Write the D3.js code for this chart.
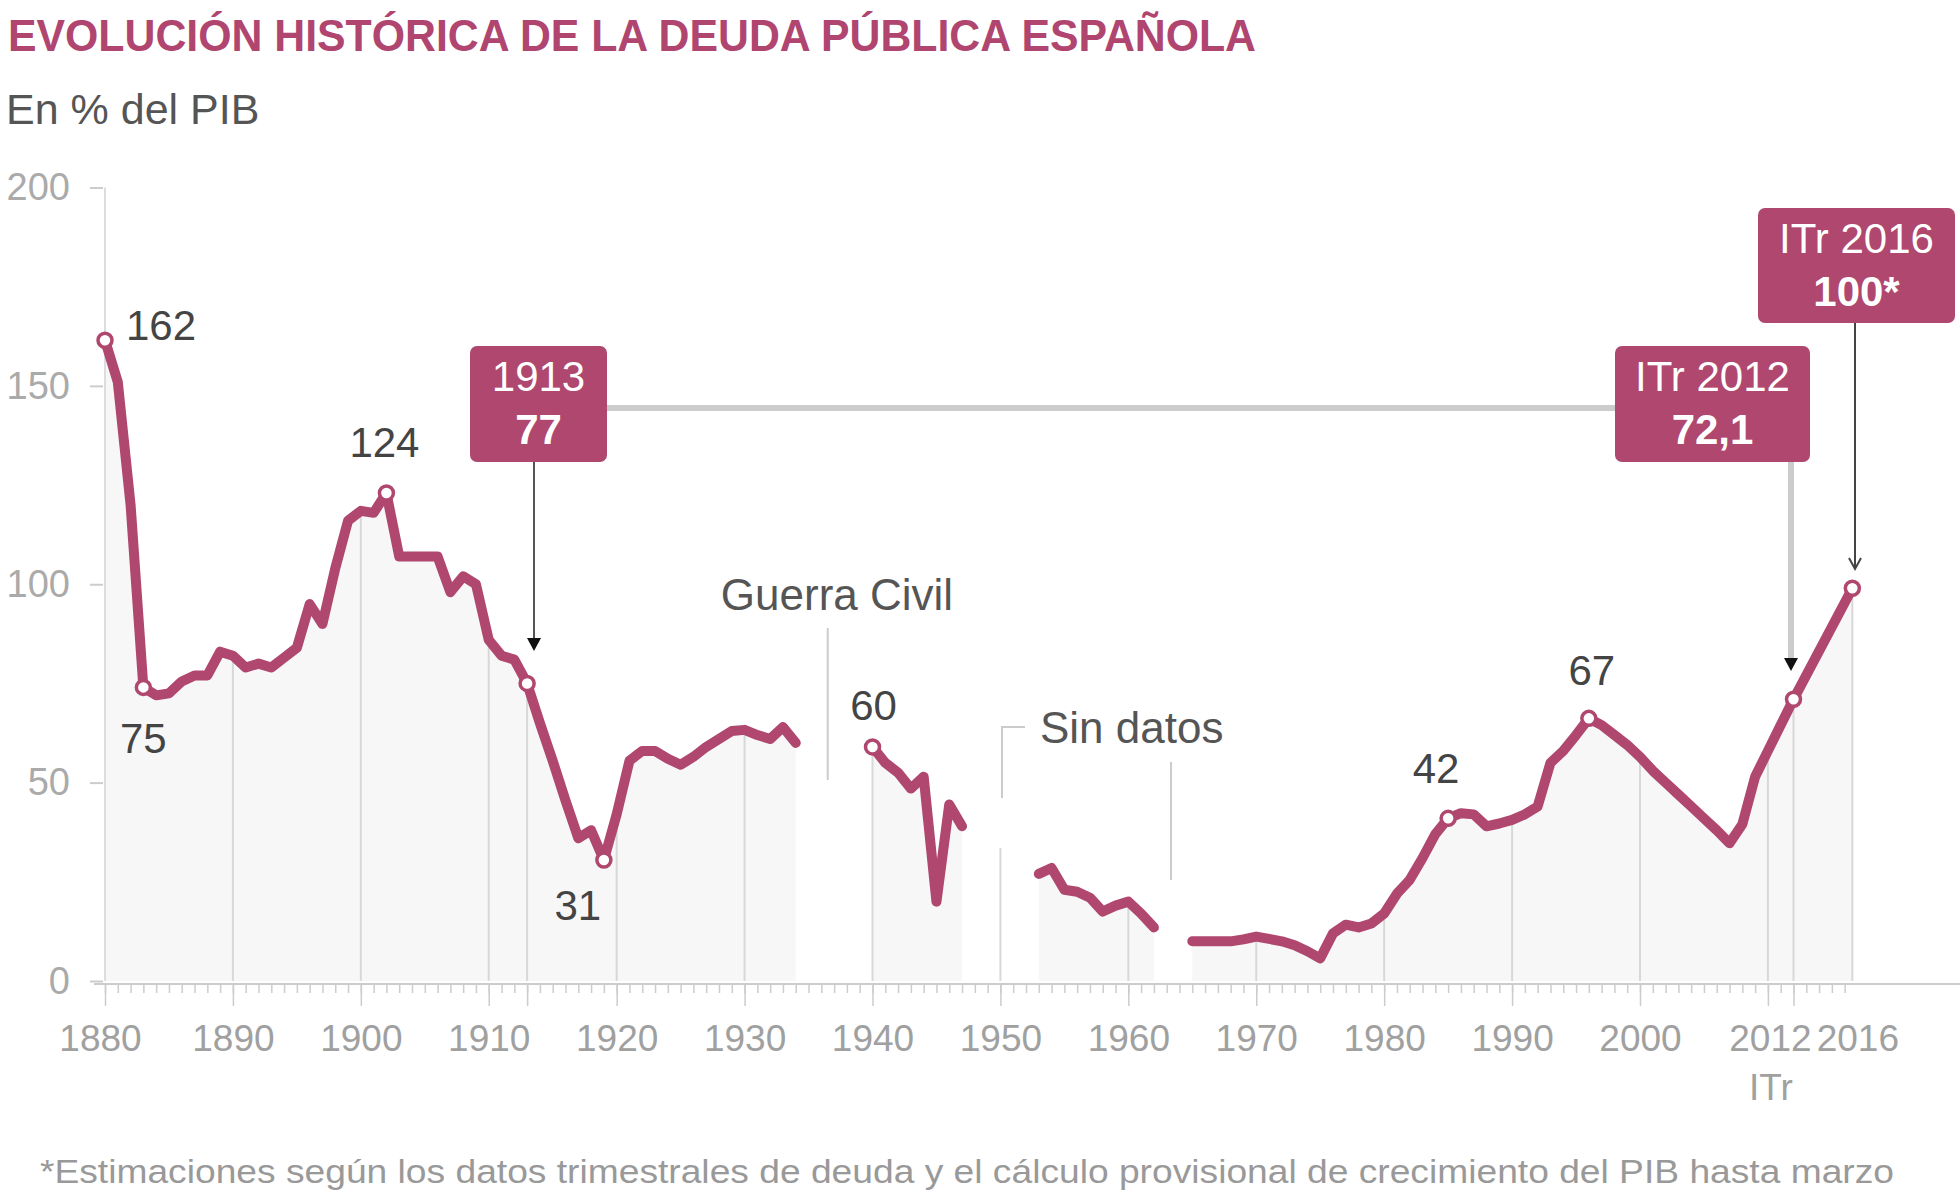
<!DOCTYPE html>
<html>
<head>
<meta charset="utf-8">
<title>Evolución histórica de la deuda pública española</title>
<script src="https://cdnjs.cloudflare.com/ajax/libs/d3/7.8.5/d3.min.js"></script>
<style>
    body { margin: 0; background: #fff; }
    text { font-family: "Liberation Sans", Arial, sans-serif; }
</style>
</head>
<body>
<svg id="chart" width="1960" height="1198"></svg>
<script>
// deuda publica en % del PIB, un array por tramo continuo (hay huecos sin datos)
const years1 = d3.range(1880, 1935);
const debt1 = [161.5, 151, 120, 74, 72, 72.5, 75.5, 77, 77, 83,
               82, 79, 80, 79, 81.5, 84, 95, 90, 104, 116,
               118.5, 118, 123, 107, 107, 107, 107, 98, 102, 100,
               86, 82, 81, 75, 65, 55.5, 45.5, 36, 38, 30.5,
               42, 55.5, 58, 58, 56, 54.5, 56.5, 59, 61, 63,
               63.3, 62, 61, 64, 60];
const years2 = [1940, 1941, 1942, 1943, 1944, 1945, 1946, 1947];
const debt2 = [59, 55, 52.5, 48.5, 51.5, 20, 44.5, 39];
const years3 = [1953, 1954, 1955, 1956, 1957, 1958, 1959, 1960, 1961, 1962];
const debt3 = [27, 28.5, 23, 22.5, 21, 17.5, 19, 20, 17, 13.5];
const years4 = d3.range(1965, 2013).concat([2016.6]); // ultimo punto: ITr 2016
const debt4 = [10, 10, 10, 10, 10.5, 11.2, 10.6, 10, 9, 7.5,
               5.7, 12, 14.2, 13.5, 14.5, 17, 22, 25.5, 31, 37,
               41, 42.3, 42, 39, 39.7, 40.6, 42, 44, 55, 58,
               62, 66.2, 64.5, 62, 59.5, 56.5, 53, 50, 47, 44,
               41, 38, 34.7, 39.5, 51.5, 58, 64.5, 71, 99];

// puntos destacados
const markYears = [1880, 1883, 1902, 1913, 1919, 1940, 1985, 1996, 2012, 2016.6];
const labelYears = [1880, 1883, 1902, 1919, 1940, 1985, 1996];
const labelTexts = ["162", "75", "124", "31", "60", "42", "67"];

// eje
const yTicks = [0, 50, 100, 150, 200];
const axisYears = [1880, 1890, 1900, 1910, 1920, 1930, 1940, 1950, 1960, 1970, 1980, 1990, 2000, 2010, 2016.6];
const axisLabels = ["1880", "1890", "1900", "1910", "1920", "1930", "1940", "1950", "1960", "1970", "1980", "1990", "2000", "2012", "2016"];
const majorYears = [1880, 1890, 1900, 1910, 1913, 1920, 1930, 1940, 1950, 1960, 1970, 1980, 1990, 2000, 2010, 2012];
const gridYears = [1890, 1900, 1910, 1913, 1920, 1930, 1940, 1960, 1970, 1980, 1990, 2000, 2010, 2012, 2016.6];

const RED = "#b0476e";
const svg = d3.select("#chart");

const x = d3.scaleLinear().domain([1880, 2000]).range([105, 1640]);
const y = d3.scaleLinear().domain([0, 200]).range([981, 187.5]);

const segments = [
    d3.zip(years1, debt1),
    d3.zip(years2, debt2),
    d3.zip(years3, debt3),
    d3.zip(years4, debt4)
];

function valueAt(yr) {
    for (const s of segments) {
        if (yr >= s[0][0] && yr <= s[s.length - 1][0]) {
            for (let i = 0; i < s.length - 1; i++) {
                if (yr >= s[i][0] && yr <= s[i + 1][0]) {
                    const t = (yr - s[i][0]) / (s[i + 1][0] - s[i][0]);
                    return s[i][1] + t * (s[i + 1][1] - s[i][1]);
                }
            }
            return s[s.length - 1][1];
        }
    }
    return null;
}

// titulos
svg.append("text").attr("x", 8).attr("y", 51)
    .attr("font-size", 44).attr("font-weight", "bold").attr("fill", "#b04570")
    .attr("textLength", 1248).attr("lengthAdjust", "spacingAndGlyphs")
    .text("EVOLUCIÓN HISTÓRICA DE LA DEUDA PÚBLICA ESPAÑOLA");
svg.append("text").attr("x", 6).attr("y", 124)
    .attr("font-size", 43).attr("fill", "#555")
    .text("En % del PIB");

// areas grises
const area = d3.area().x(d => x(d[0])).y0(y(0)).y1(d => y(d[1]));
svg.append("g").selectAll("path").data(segments).join("path")
    .attr("d", area).attr("fill", "#f7f7f7");

// linea vertical del eje y
svg.append("line").attr("x1", x(1880)).attr("x2", x(1880))
    .attr("y1", y(200)).attr("y2", y(0)).attr("stroke", "#ddd").attr("stroke-width", 2);

// rejilla bajo la curva
svg.append("g").selectAll("line").data(gridYears).join("line")
    .attr("x1", d => x(d)).attr("x2", d => x(d))
    .attr("y1", y(0)).attr("y2", d => y(valueAt(d)))
    .attr("stroke", "#d8d8d8").attr("stroke-width", 2);

// eje y
const yAxis = svg.append("g").attr("transform", "translate(103,0)")
    .call(d3.axisLeft(y).tickValues(yTicks).tickSize(13).tickPadding(20));
yAxis.select(".domain").remove();
yAxis.selectAll("line").attr("stroke", "#ccc").attr("stroke-width", 2);
yAxis.selectAll("text").attr("font-size", 38).attr("fill", "#aaa")
    .attr("font-family", "'Liberation Sans', Arial, sans-serif");

// eje x
const axisY = 984;
svg.append("line").attr("x1", 94).attr("x2", 1960).attr("y1", axisY).attr("y2", axisY)
    .attr("stroke", "#ccc").attr("stroke-width", 2);
const minor = svg.append("g").attr("transform", `translate(0,${axisY})`)
    .call(d3.axisBottom(x).tickValues(d3.range(1880, 2017)).tickSize(9).tickFormat(""));
const major = svg.append("g").attr("transform", `translate(0,${axisY})`)
    .call(d3.axisBottom(x).tickValues(majorYears).tickSize(22).tickFormat(""));
const labels = svg.append("g").attr("transform", `translate(0,${axisY})`)
    .call(d3.axisBottom(x).tickValues(axisYears).tickSize(0).tickPadding(41)
        .tickFormat((d, i) => axisLabels[i]));
[minor, major, labels].forEach(g => {
    g.select(".domain").remove();
    g.selectAll("line").attr("stroke", "#ccc").attr("stroke-width", 1.5);
});
labels.selectAll("text").attr("font-size", 37).attr("fill", "#a0a0a0")
    .attr("font-family", "'Liberation Sans', Arial, sans-serif")
    .attr("dx", (d, i) => i === 0 ? -5 : (i === axisYears.length - 1 ? 5 : (i === axisYears.length - 2 ? 2 : 0)));
svg.append("text").attr("x", x(2010) + 3).attr("y", 1100).attr("text-anchor", "middle")
    .attr("font-size", 37).attr("fill", "#a0a0a0").text("ITr");

// Guerra Civil
svg.append("line").attr("x1", x(1936.5)).attr("x2", x(1936.5))
    .attr("y1", 628).attr("y2", 780).attr("stroke", "#ccc").attr("stroke-width", 2);
svg.append("text").attr("x", 837).attr("y", 610).attr("text-anchor", "middle")
    .attr("font-size", 44).attr("fill", "#555").text("Guerra Civil");

// Sin datos
svg.append("path").attr("d", "M1025,727H1002V798").attr("fill", "none")
    .attr("stroke", "#ccc").attr("stroke-width", 2);
svg.append("line").attr("x1", x(1950)).attr("x2", x(1950))
    .attr("y1", 848).attr("y2", y(0)).attr("stroke", "#d8d8d8").attr("stroke-width", 2);
svg.append("line").attr("x1", 1171).attr("x2", 1171)
    .attr("y1", 762).attr("y2", 880).attr("stroke", "#ccc").attr("stroke-width", 2);
svg.append("text").attr("x", 1040).attr("y", 743)
    .attr("font-size", 44).attr("fill", "#555").text("Sin datos");

// conector entre 1913 e ITr 2012
svg.append("line").attr("x1", 607).attr("x2", 1615).attr("y1", 408).attr("y2", 408)
    .attr("stroke", "#ccc").attr("stroke-width", 6);

// flechas hacia los puntos
const x1913 = 534, x2012 = 1791, x2016 = 1855;
svg.append("line").attr("x1", x1913).attr("x2", x1913).attr("y1", 461).attr("y2", 642)
    .attr("stroke", "#555").attr("stroke-width", 2);
svg.append("path").attr("d", `M${x1913 - 7},638 L${x1913 + 7},638 L${x1913},651 Z`).attr("fill", "#111");
svg.append("line").attr("x1", x2012).attr("x2", x2012).attr("y1", 461).attr("y2", 660)
    .attr("stroke", "#ccc").attr("stroke-width", 6);
svg.append("path").attr("d", `M${x2012 - 7},658 L${x2012 + 7},658 L${x2012},671 Z`).attr("fill", "#111");
svg.append("line").attr("x1", x2016).attr("x2", x2016).attr("y1", 322).attr("y2", 568)
    .attr("stroke", "#444").attr("stroke-width", 2);
svg.append("path").attr("d", `M${x2016 - 6},558 L${x2016},569 L${x2016 + 6},558`)
    .attr("fill", "none").attr("stroke", "#444").attr("stroke-width", 2);

// linea de datos
const line = d3.line().x(d => x(d[0])).y(d => y(d[1]));
svg.append("g").selectAll("path").data(segments).join("path")
    .attr("d", line).attr("fill", "none").attr("stroke", RED)
    .attr("stroke-width", 10).attr("stroke-linejoin", "round").attr("stroke-linecap", "round");

svg.append("g").selectAll("circle").data(markYears).join("circle")
    .attr("cx", d => x(d)).attr("cy", d => y(valueAt(d))).attr("r", 7)
    .attr("fill", "#fff").attr("stroke", RED).attr("stroke-width", 3.5);

// etiquetas de valores
const labelOffsets = [[21, 0, "start"], [0, 66, "middle"], [-2, -36, "middle"], [-26, 60, "middle"],
                      [1, -27, "middle"], [-12, -35, "middle"], [3, -33, "middle"]];
svg.append("g").selectAll("text").data(labelYears).join("text")
    .attr("x", (d, i) => x(d) + labelOffsets[i][0])
    .attr("y", (d, i) => y(valueAt(d)) + labelOffsets[i][1])
    .attr("text-anchor", (d, i) => labelOffsets[i][2])
    .attr("font-size", 42).attr("fill", "#444")
    .text((d, i) => labelTexts[i]);

// cajas
const boxes = [
    {x0: 470, y0: 346, w: 137, h: 116, top: "1913", bottom: "77"},
    {x0: 1615, y0: 346, w: 195, h: 116, top: "ITr 2012", bottom: "72,1"},
    {x0: 1758, y0: 208, w: 197, h: 115, top: "ITr 2016", bottom: "100*"}
];
const bx = svg.append("g").selectAll("g").data(boxes).join("g");
bx.append("rect").attr("x", d => d.x0).attr("y", d => d.y0)
    .attr("width", d => d.w).attr("height", d => d.h).attr("rx", 7).attr("fill", RED);
bx.append("text").attr("x", d => d.x0 + d.w / 2).attr("y", d => d.y0 + 45)
    .attr("text-anchor", "middle").attr("font-size", 42).attr("fill", "#fff")
    .text(d => d.top);
bx.append("text").attr("x", d => d.x0 + d.w / 2).attr("y", d => d.y0 + 98)
    .attr("text-anchor", "middle").attr("font-size", 42).attr("font-weight", "bold").attr("fill", "#fff")
    .text(d => d.bottom);

// nota
svg.append("text").attr("x", 40).attr("y", 1183)
    .attr("font-size", 34).attr("fill", "#999")
    .attr("textLength", 1854).attr("lengthAdjust", "spacingAndGlyphs")
    .text("*Estimaciones según los datos trimestrales de deuda y el cálculo provisional de crecimiento del PIB hasta marzo");
</script>
</body>
</html>
